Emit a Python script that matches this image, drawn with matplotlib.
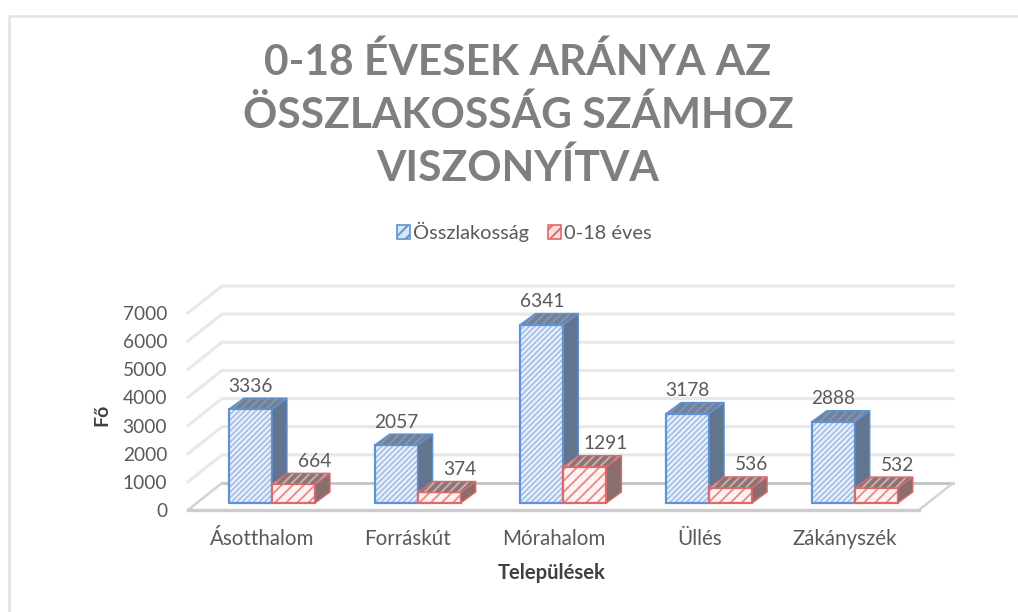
import matplotlib
matplotlib.use("Agg")
import matplotlib.pyplot as plt
from matplotlib.lines import Line2D
from matplotlib.patches import Patch, Polygon

CATEGORIES = ["Ásotthalom", "Forráskút", "Mórahalom", "Üllés", "Zákányszék"]
TOTAL = [3336, 2057, 6341, 3178, 2888]
CHILDREN = [664, 374, 1291, 536, 532]
Y_TICKS = [0, 1000, 2000, 3000, 4000, 5000, 6000, 7000]

SERIES_NAMES = ["Összlakosság", "0-18 éves"]
TITLE = "0-18 ÉVESEK ARÁNYA AZ\nÖSSZLAKOSSÁG SZÁMHOZ\nVISZONYÍTVA"

W, H = 1018, 612
AX_LEFT, AX_RIGHT, AX_TOP, AX_BOTTOM = 188, 953, 285, 510  # pixels
PX_PER_CAT = 145.7
PX_PER_UNIT = 28.15 / 1000

TEXT = "#595959"
GRID = "#e8e8e8"
BLUE = "#5f93d3"
RED = "#dd6a68"


def px_x(px):
    return px / PX_PER_CAT


def px_y(px):
    return px / PX_PER_UNIT


WIDTH = px_x(43)
BASE = px_y(7)  # bars stand a bit behind the front edge of the floor
BAR_DX, BAR_DY = px_x(15), px_y(11)
WALL_DX, WALL_DY = px_x(34), px_y(27)


def bar_3d(ax, x, value, face, stripe, edge, side, top, top_stripe, hatch):
    # hatch and outline need different colours, so the front face is two bars
    ax.bar(x, value, WIDTH, bottom=BASE, align="edge", facecolor=face,
           edgecolor=stripe, hatch=hatch, linewidth=0, zorder=5)
    ax.bar(x, value, WIDTH, bottom=BASE, align="edge", fill=False,
           edgecolor=edge, linewidth=1.6, zorder=5)
    y1 = BASE + value
    ax.add_patch(Polygon(
        [(x + WIDTH, BASE), (x + WIDTH + BAR_DX, BASE + BAR_DY),
         (x + WIDTH + BAR_DX, y1 + BAR_DY), (x + WIDTH, y1)],
        facecolor=side, edgecolor=edge, linewidth=1.0, zorder=5, clip_on=False))
    top_pts = [(x, y1), (x + BAR_DX, y1 + BAR_DY),
               (x + WIDTH + BAR_DX, y1 + BAR_DY), (x + WIDTH, y1)]
    ax.add_patch(Polygon(top_pts, facecolor=top, edgecolor=top_stripe, linewidth=0,
                         hatch="////", zorder=5, clip_on=False))
    ax.add_patch(Polygon(top_pts, fill=False, edgecolor=edge, linewidth=1.0,
                         zorder=5, clip_on=False))


def main():
    plt.rcParams["font.family"] = ["Lato", "DejaVu Sans"]
    plt.rcParams["hatch.linewidth"] = 1.4

    fig = plt.figure(figsize=(W / 100, H / 100), dpi=100)
    ax = fig.add_axes([AX_LEFT / W, 1 - AX_BOTTOM / H,
                       (AX_RIGHT - AX_LEFT) / W, (AX_BOTTOM - AX_TOP) / H])
    # x = 0 is the boundary between the two bars of the first category
    x0 = (AX_LEFT - 272) / PX_PER_CAT
    x1 = (AX_RIGHT - 272) / PX_PER_CAT
    ax.set_xlim(x0, x1)
    ax.set_ylim(0, (AX_BOTTOM - AX_TOP) / PX_PER_UNIT)
    for spine in ax.spines.values():
        spine.set_visible(False)
    ax.patch.set_alpha(0)

    # back wall and left wall gridlines
    for v in Y_TICKS[1:]:
        ax.plot([x0, x0 + WALL_DX, x1], [v, v + WALL_DY, v + WALL_DY],
                color=GRID, lw=2.2, zorder=1, clip_on=False)
    # floor
    floor_right = x1 - WALL_DX
    ax.plot([x0 + WALL_DX, x1], [WALL_DY, WALL_DY], color="#c4c4c4", lw=2.0,
            zorder=2, clip_on=False)
    ax.plot([x0, x0 + WALL_DX], [0, WALL_DY], color="#d4d4d4", lw=1.8,
            zorder=2, clip_on=False)
    ax.plot([floor_right, x1], [0, WALL_DY], color="#d4d4d4", lw=1.8,
            zorder=2, clip_on=False)
    ax.plot([x0, floor_right], [0, 0], color="#cccccc", lw=2.4, zorder=2,
            clip_on=False)

    for i, (total, kids) in enumerate(zip(TOTAL, CHILDREN)):
        bar_3d(ax, i - WIDTH, total, "#eef3fb", "#a6c2e8", BLUE,
               "#62758f", "#6f819b", "#8595ab", "//////")
        bar_3d(ax, i, kids, "#fdf3f3", "#e88f8d", RED,
               "#8a6d6d", "#8f7274", "#c4b0b0", "///")
        ax.annotate(str(total), (i - WIDTH / 2, BASE + total), xytext=(0, 16.5),
                    textcoords="offset points", ha="center", va="center",
                    fontsize=13.8, color=TEXT, zorder=7)
        ax.annotate(str(kids), (i + WIDTH / 2, BASE + kids), xytext=(15, 16.5),
                    textcoords="offset points", ha="center", va="center",
                    fontsize=13.8, color=TEXT, zorder=7)

    ax.set_xticks([i - px_x(10) for i in range(len(CATEGORIES))])
    ax.set_xticklabels(CATEGORIES, fontsize=14.8, color=TEXT)
    ax.set_yticks(Y_TICKS)
    ax.set_yticklabels([str(v) for v in Y_TICKS], fontsize=13.8, color=TEXT)
    ax.tick_params(axis="x", length=0, pad=14)
    ax.tick_params(axis="y", length=0, pad=15)

    fig.text(102 / W, 1 - 415 / H, "Fő", rotation=90, ha="center", va="center",
             fontsize=14, fontweight="bold", color="#404040")
    fig.text(552 / W, 1 - 573 / H, "Települések", ha="center", va="center",
             fontsize=14.6, fontweight="bold", color="#404040")

    fig.text(518 / W, 1 - 115 / H, TITLE, ha="center", va="center", fontsize=30.6,
             fontweight="bold", color="#7f7f7f", linespacing=1.41)

    handles = [
        Patch(facecolor="#dbe6f5", edgecolor=BLUE, hatch="///", linewidth=1.2),
        Patch(facecolor="#f8dede", edgecolor=RED, hatch="///", linewidth=1.2),
    ]
    fig.legend(handles, SERIES_NAMES, loc="center", ncol=2, frameon=False,
               bbox_to_anchor=(524 / W, 1 - 232 / H), fontsize=14.4,
               labelcolor=TEXT, handlelength=0.65, handleheight=0.75,
               handletextpad=0.15, columnspacing=0.95)

    # chart border, only left and top are visible in the source image
    fig.add_artist(Line2D([8.5 / W, 8.5 / W, 1], [0, 1 - 16 / H, 1 - 16 / H],
                          color="#e2e2e2", lw=1.8))

    fig.savefig("out.png", dpi=100, facecolor="white")
    plt.close(fig)


if __name__ == "__main__":
    main()
